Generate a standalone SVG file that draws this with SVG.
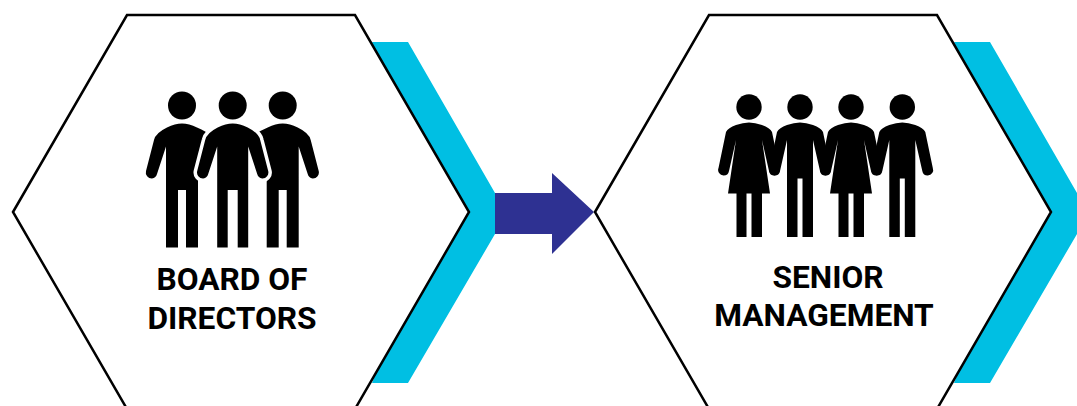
<svg xmlns="http://www.w3.org/2000/svg" width="1077" height="406" viewBox="0 0 1077 406">
<style>
.hex{fill:#fff;stroke:#000;stroke-width:2.500}
.chev{fill:#00BFE3}
.lbl{font-family:Roboto,"Liberation Sans",sans-serif;font-weight:700;font-size:31.700px;fill:#000;text-anchor:middle}
.halo{stroke:#fff;stroke-width:7;paint-order:stroke}
</style>
<defs>
<path id="man" d="M-15.500 247.500V146.500L-24.500 174A6 6 0 0 1 -29.500 178.500A6 6 0 0 1 -35.500 171L-27.500 140Q-26 133 -15 127.500Q-7 123.500 0 123.500Q7 123.500 15 127.500Q26 133 27.500 140L35.500 171A6 6 0 0 1 29.500 178.500A6 6 0 0 1 24.500 174L15.500 146.500V247.500H5V190H-5V247.500Z"/>
<path id="side" d="M-16 247.500V146.500L-25 174A6 6 0 0 1 -30 178.500A6 6 0 0 1 -36 171L-28 140Q-26.500 133 -15 127.500Q-7 123.500 0 123.500Q7 123.500 15 127.500Q24 131 32 138L16 178V247.500H4V190H-4V247.500Z"/>
<path id="man2" d="M-13 237V140L-20 171A5.500 5.500 0 0 1 -25.500 175.500A5.500 5.500 0 0 1 -30.500 168L-23 132Q-21 128 -13 125Q-6 122.500 0 122.500Q6 122.500 13 125Q21 128 23 132L30.500 168A5.500 5.500 0 0 1 25.500 175.500A5.500 5.500 0 0 1 20 171L13 140V237H2.500V178.500H-2.500V237Z"/>
<path id="woman" d="M-12.500 237V193.500H-21L-13 140L-20 171A5.500 5.500 0 0 1 -25.500 175.500A5.500 5.500 0 0 1 -30.500 168L-23 132Q-21 128 -13 125Q-6 122.500 0 122.500Q6 122.500 13 125Q21 128 23 132L30.500 168A5.500 5.500 0 0 1 25.500 175.500A5.500 5.500 0 0 1 20 171L13 140L21 193.500H13V237H2.500V193.500H-2.500V237Z"/>
<polygon id="chevron" points="372,42 408,42 495,193 495,234 408,383 372,383 440,212"/>
</defs>
<g id="connectors">
<polygon fill="#2E3192" points="495,193 552,193 552,173 594,212 552,254 552,234 495,234"/>
</g>
<g id="node-board">
<use href="#chevron" class="chev"/>
<polygon class="hex" points="13,212 127,15 355,15 469,212 355,409 127,409"/>
<circle cx="182" cy="105.500" r="14"/><circle cx="232.700" cy="105.500" r="14"/><circle cx="282.700" cy="105.500" r="14"/>
<use href="#side" x="182"/>
<use href="#side" transform="translate(282.700 0) scale(-1 1)"/>
<use href="#man" x="232.700" class="halo"/>
<text class="lbl" x="232" y="290">BOARD OF</text>
<text class="lbl" x="232" y="328.500">DIRECTORS</text>
</g>
<g id="node-senior">
<use href="#chevron" class="chev" x="582"/>
<polygon class="hex" points="595,212 709,15 937,15 1051,212 937,409 709,409"/>
<circle cx="749" cy="107" r="12.700"/><circle cx="800" cy="107" r="12.700"/><circle cx="851" cy="107" r="12.700"/><circle cx="902.300" cy="107" r="12.700"/>
<use href="#woman" x="749"/><use href="#man2" x="800"/><use href="#woman" x="851"/><use href="#man2" x="902.300"/>
<text class="lbl" x="828" y="287.500">SENIOR</text>
<text class="lbl" x="824" y="325.500">MANAGEMENT</text>
</g>
</svg>
